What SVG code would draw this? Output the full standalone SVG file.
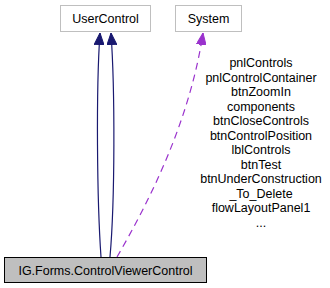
<svg xmlns="http://www.w3.org/2000/svg" width="330" height="288" viewBox="0 0 330 288">
  <style>
    .box { fill: #ffffff; stroke: #bfbfbf; stroke-width: 1; }
    .main { fill: #bfbfbf; stroke: #000000; stroke-width: 1; }
    .lbl { font-family: "Liberation Sans", Arial, sans-serif; font-size: 12.5px; fill: #000000; text-anchor: middle; }
    .inh { fill: none; stroke: #191970; stroke-width: 1.2; }
    .use { fill: none; stroke: #9a32cd; stroke-width: 1.2; stroke-dasharray: 7 5; }
  </style>
  <defs>
    <marker id="navyHead" viewBox="0 0 12 10" refX="12" refY="5" markerWidth="12" markerHeight="10" markerUnits="userSpaceOnUse" orient="auto">
      <path d="M0,0 L12,5 L0,10 Z" fill="#191970" stroke="#191970"/>
    </marker>
    <marker id="purpleHead" viewBox="0 0 12 10" refX="12" refY="5" markerWidth="12" markerHeight="10" markerUnits="userSpaceOnUse" orient="auto">
      <path d="M0,0 L12,5 L0,10 Z" fill="#9a32cd" stroke="#9a32cd"/>
    </marker>
  </defs>

  <g id="edges">
    <path class="inh" d="M101,257 C97,200 96,90 100,33" marker-end="url(#navyHead)"/>
    <path class="inh" d="M110,257 C115,200 115,90 111,33" marker-end="url(#navyHead)"/>
    <path class="use" d="M117,257 C150,200 190,120 203,33" marker-end="url(#purpleHead)"/>
    <g id="edge-labels">
      <text class="lbl" x="261" y="67">pnlControls</text>
      <text class="lbl" x="261" y="81.5">pnlControlContainer</text>
      <text class="lbl" x="261" y="96">btnZoomIn</text>
      <text class="lbl" x="261" y="110.5">components</text>
      <text class="lbl" x="261" y="125">btnCloseControls</text>
      <text class="lbl" x="261" y="139.5">btnControlPosition</text>
      <text class="lbl" x="261" y="154">lblControls</text>
      <text class="lbl" x="261" y="168.5">btnTest</text>
      <text class="lbl" x="261" y="183">btnUnderConstruction</text>
      <text class="lbl" x="261" y="197.5">_To_Delete</text>
      <text class="lbl" x="261" y="212">flowLayoutPanel1</text>
      <text class="lbl" x="261" y="226.5">...</text>
    </g>
  </g>

  <g id="node-usercontrol">
    <rect class="box" x="60.5" y="5.5" width="90" height="26"/>
    <text class="lbl" x="105.5" y="22.5">UserControl</text>
  </g>

  <g id="node-system">
    <rect class="box" x="175.5" y="5.5" width="66" height="26"/>
    <text class="lbl" x="208.5" y="22.5">System</text>
  </g>

  <g id="node-controlviewercontrol">
    <rect class="main" x="4.5" y="257.5" width="202" height="25"/>
    <text class="lbl" x="105.5" y="274.5">IG.Forms.ControlViewerControl</text>
  </g>
</svg>
